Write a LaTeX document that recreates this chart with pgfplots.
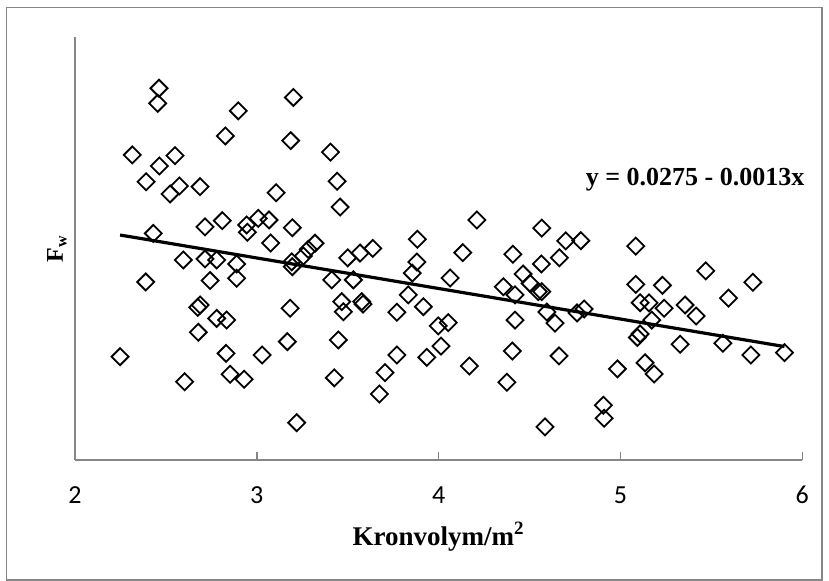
\documentclass[border=0pt]{standalone}
\usepackage{fontspec}
\setmainfont{Liberation Serif}
\newfontfamily\carlito{Carlito}
\usepackage{pgfplots}
\usepackage{pgfplotstable}
\pgfplotsset{compat=1.18}
\definecolor{axgray}{HTML}{868686}

% crown volume vs F_w
\pgfplotstableread{
x y
2.462 0.03083
2.455 0.03019
3.201 0.03044
2.898 0.02987
2.827 0.02880
3.186 0.02860
2.315 0.02799
2.550 0.02796
2.464 0.02752
2.391 0.02685
2.574 0.02667
2.523 0.02633
2.688 0.02664
3.106 0.02638
3.405 0.02811
3.442 0.02687
3.458 0.02577
2.431 0.02465
2.715 0.02493
2.810 0.02519
2.944 0.02501
2.948 0.02470
3.008 0.02529
3.067 0.02522
3.195 0.02489
3.076 0.02424
3.320 0.02423
3.283 0.02397
3.256 0.02369
2.596 0.02352
2.715 0.02356
2.779 0.02352
2.889 0.02335
3.192 0.02344
3.195 0.02323
4.210 0.02522
4.567 0.02487
4.699 0.02433
4.782 0.02434
3.883 0.02440
4.133 0.02383
4.408 0.02376
4.565 0.02335
4.664 0.02361
4.464 0.02292
3.880 0.02343
3.855 0.02296
4.063 0.02275
3.500 0.02361
3.568 0.02381
3.638 0.02401
5.084 0.02411
5.469 0.02305
5.084 0.02248
5.231 0.02244
5.728 0.02257
5.594 0.02189
4.567 0.02217
5.108 0.02170
5.157 0.02169
5.240 0.02146
5.355 0.02160
5.416 0.02113
5.172 0.02096
4.595 0.02130
4.640 0.02083
4.761 0.02126
4.800 0.02143
5.108 0.02037
5.093 0.02022
5.328 0.01993
5.563 0.01997
5.717 0.01947
5.902 0.01957
4.662 0.01943
4.983 0.01888
5.135 0.01914
5.185 0.01866
4.906 0.01733
4.910 0.01678
4.585 0.01641
2.389 0.02258
2.743 0.02264
2.889 0.02274
3.412 0.02267
2.675 0.02150
2.688 0.02160
2.779 0.02103
2.834 0.02096
3.183 0.02146
3.467 0.02174
3.476 0.02131
2.678 0.02044
3.168 0.02004
3.448 0.02011
2.248 0.01940
2.831 0.01954
3.029 0.01947
2.853 0.01865
2.930 0.01844
2.603 0.01833
3.426 0.01850
3.219 0.01659
3.531 0.02267
4.503 0.02252
4.548 0.02217
4.356 0.02238
4.420 0.02203
3.833 0.02203
3.577 0.02174
3.584 0.02164
3.916 0.02153
3.770 0.02129
3.998 0.02071
4.053 0.02085
4.420 0.02096
3.770 0.01947
3.935 0.01937
4.013 0.01985
4.169 0.01900
4.405 0.01964
3.705 0.01872
3.674 0.01781
4.375 0.01831
}\fwdata

\begin{document}
\begin{tikzpicture}
\useasboundingbox (-37.5pt,-60.5pt) rectangle (377pt,230pt);
\draw[axgray, line width=0.6pt] (-34.15pt,-60pt) rectangle (373.5pt,226.35pt);
\begin{axis}[
    scale only axis,
    width=363.65pt, height=211.35pt,
    xmin=2, xmax=6,
    ymin=0.015, ymax=0.033,
    axis lines*=left,
    axis line style={axgray, line width=0.8pt},
    xtick={2,3,4,5,6},
    ytick=\empty,
    tick align=inside,
    major tick length=4pt,
    tick style={axgray, line width=0.8pt},
    /pgf/number format/assume math mode=true,
    xticklabel style={font=\carlito\fontsize{13}{15}\selectfont, anchor=center, yshift=-17.5pt},
    xlabel={Kronvolym/m\textsuperscript{2}},
    xlabel style={font=\bfseries\fontsize{13.5}{16}\selectfont,
      at={([yshift=-38.3pt]axis description cs:0.5,0)}, anchor=center},
    ylabel={F\textsubscript{w}},
    ylabel style={font=\bfseries\fontsize{12}{14}\selectfont,
      at={([xshift=-9pt]axis description cs:0,0.5)}, anchor=center, rotate=0},
    clip=false,
  ]
  \addplot[only marks, mark=square, mark size=3pt,
    mark options={rotate=45, line width=0.9pt, black}] table[x=x, y=y] {\fwdata};
  \addplot[black, line width=1.6pt] coordinates {(2.248,0.02458) (5.902,0.01983)};
  \node[font=\bfseries\fontsize{13}{16}\selectfont] at (rel axis cs:0.8525,0.6624)
    {y = 0.0275 - 0.0013x};
\end{axis}
\end{tikzpicture}
\end{document}
